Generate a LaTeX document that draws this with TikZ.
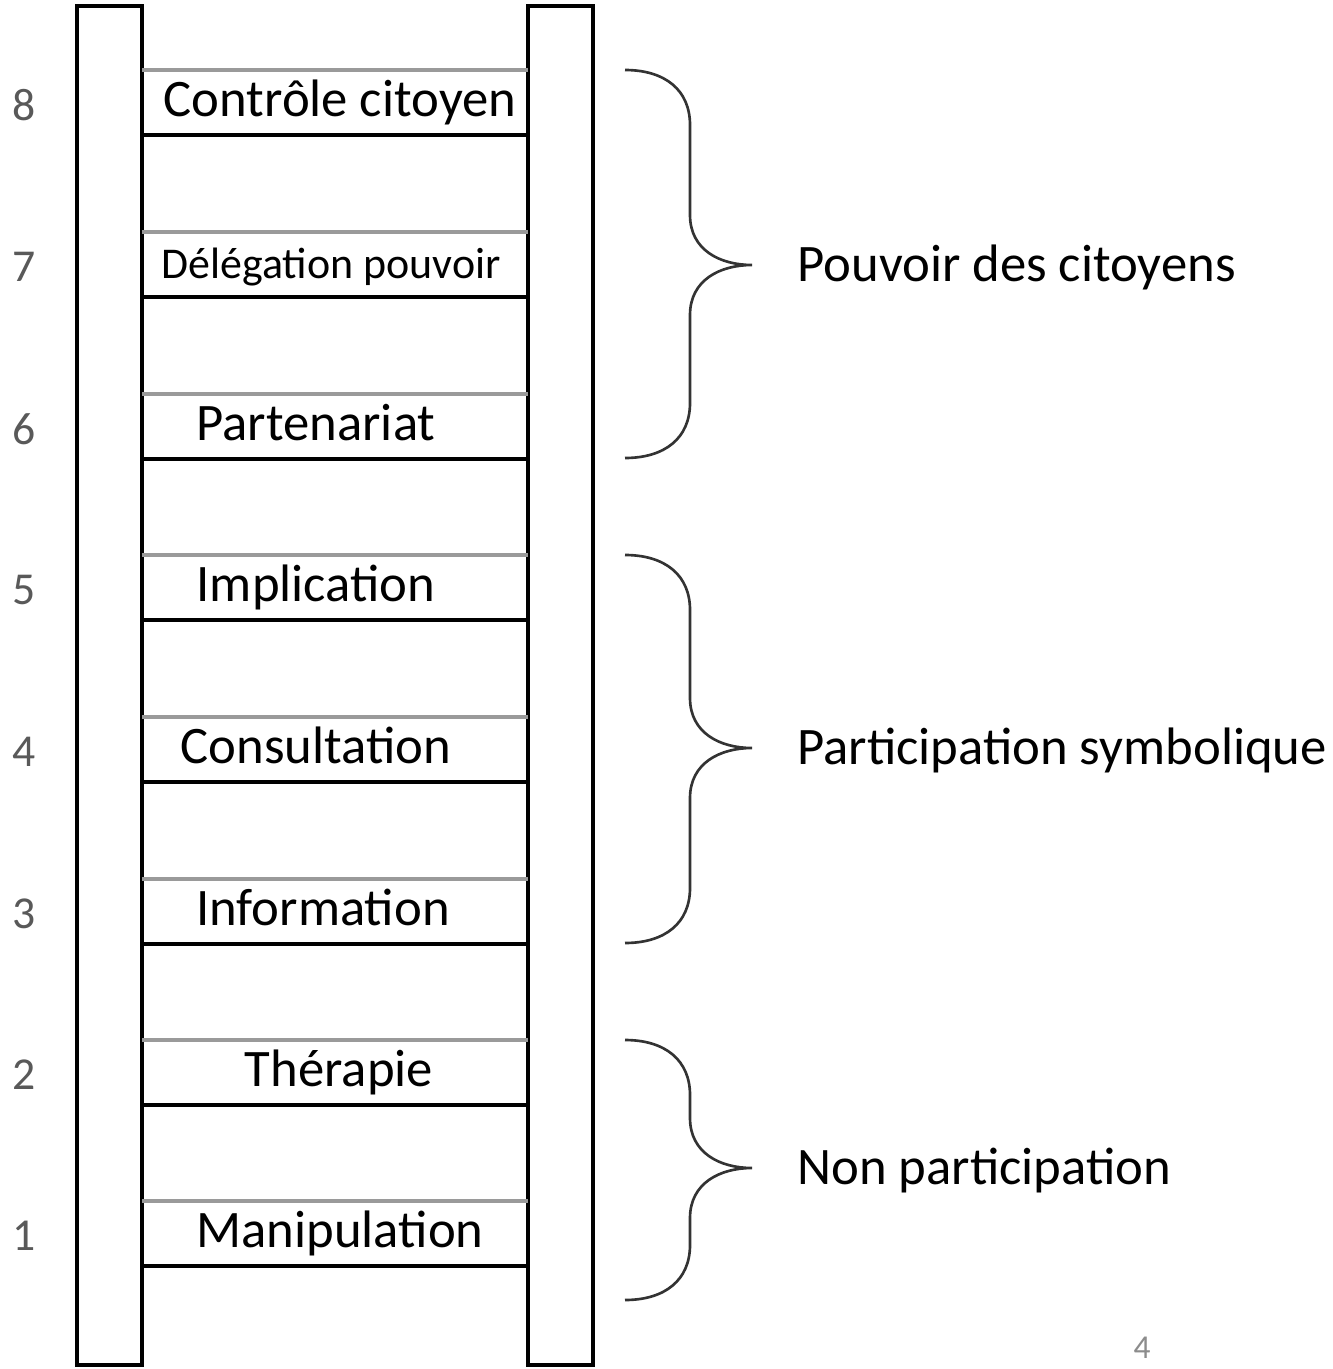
\documentclass[tikz,border=0pt]{standalone}
\usepackage{fontspec}
\setmainfont{Carlito}
\definecolor{numgray}{HTML}{595959}
\definecolor{pagegray}{HTML}{8C8C8C}
\definecolor{rimgray}{HTML}{9A9A9A}
\tikzset{
	rail/.style={draw=black, line width=2.2pt, fill=white},
	rungtop/.style={draw=rimgray, line width=2pt},
	rungbot/.style={draw=black, line width=2.2pt},
	rung/.style={anchor=base, inner sep=0pt},
	level/.style={font=\fontsize{26}{28}\selectfont, text=numgray, inner sep=0pt},
	group/.style={font=\fontsize{30}{34}\selectfont, anchor=base west, inner sep=0pt},
	bracket/.style={draw=black!80, line width=1.5pt}
}
\begin{document}
\begin{tikzpicture}[x=0.02cm, y=-0.02cm]
	\useasboundingbox (0,0) rectangle (1332,1369);
	
	\draw[rail] (77,6) rectangle (142,1365);
	\draw[rail] (528,6) rectangle (593,1365);
	
	\foreach \n/\top/\cx/\fs/\txt in {8/70/340/30/Contrôle citoyen, 7/232/331/25/Délégation pouvoir,
		6/394/316/30/Partenariat, 5/555/316/30/Implication, 4/717/316/30/Consultation,
		3/879/323/30/Information, 2/1040/339/30/Thérapie, 1/1201/340/30/Manipulation}
	{
		\draw[rungtop] (142,\top) -- (528,\top);
		\draw[rungbot] (142,\top+65) -- (528,\top+65);
		\node[rung, font=\fontsize{\fs}{\fs}\selectfont] (rung\n) at (\cx,\top+46) {\txt};
		\node[level] (lvl\n) at (24,\top+35) {\n};
	}
	
	\foreach \i/\a/\m/\b/\txt in {1/70/265/458/Pouvoir des citoyens,
		2/555/748/943/Participation symbolique, 3/1040/1168/1300/Non participation}
	{
		\draw[bracket] (625,\a) .. controls (665,\a) and (690,\a+20) .. (690,\a+55)
			-- (690,\m-50) .. controls (690,\m-15) and (720,\m) .. (752,\m)
			.. controls (720,\m) and (690,\m+15) .. (690,\m+50)
			-- (690,\b-55) .. controls (690,\b-20) and (665,\b) .. (625,\b);
		\node[group] (grp\i) at (797,\m+16) {\txt};
	}
	
	\node[font=\fontsize{19}{22}\selectfont, text=pagegray, anchor=base, inner sep=0pt] (page) at (1142,1358) {4};
\end{tikzpicture}
\end{document}
